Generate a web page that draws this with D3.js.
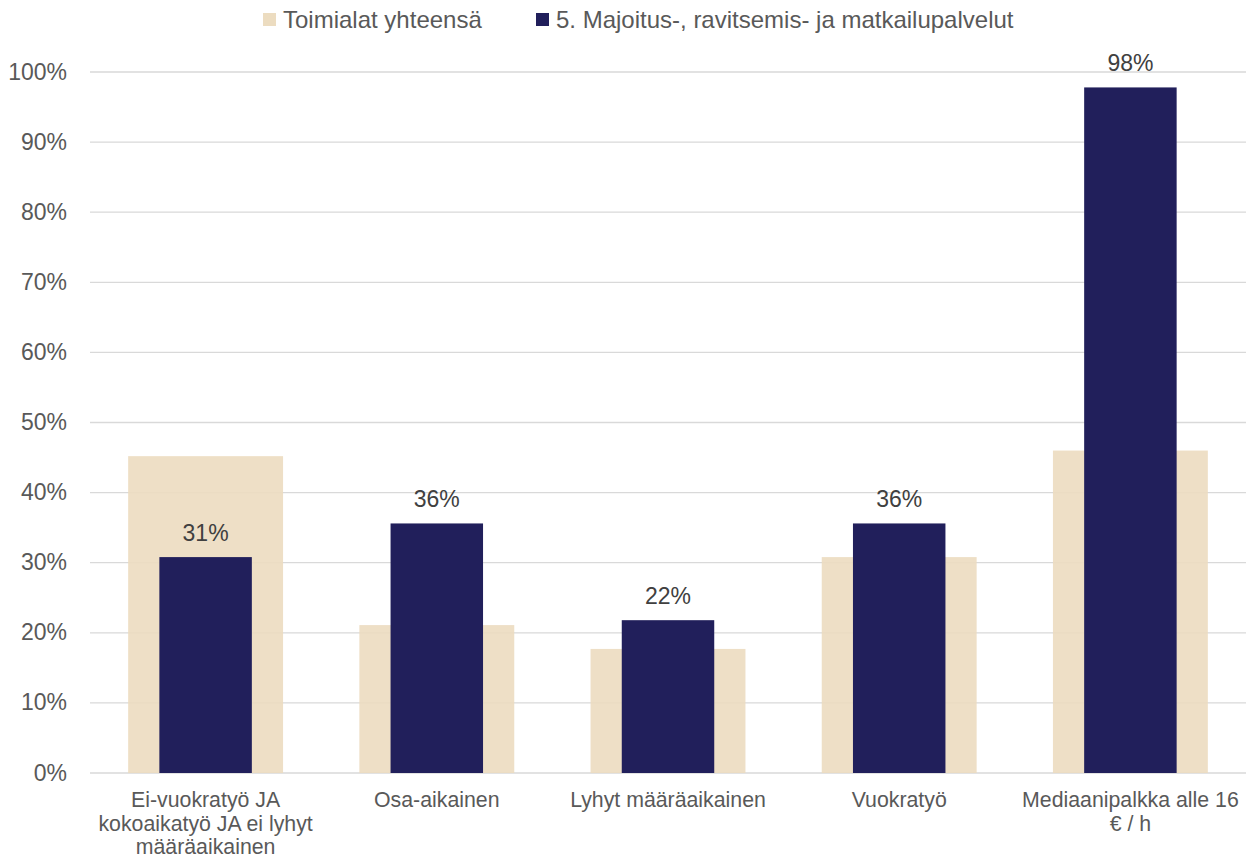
<!DOCTYPE html>
<html><head><meta charset="utf-8">
<script src="https://cdn.jsdelivr.net/npm/d3@7"></script>
<style>body{margin:0;background:#fff;font-family:"Liberation Sans",Arial,sans-serif}</style>
</head><body><svg id="c" width="1249" height="859"></svg>
<script>
const categories = [
  ["Ei-vuokratyö JA", "kokoaikatyö JA ei lyhyt", "määräaikainen"],
  ["Osa-aikainen"],
  ["Lyhyt määräaikainen"],
  ["Vuokratyö"],
  ["Mediaanipalkka alle 16", "€ / h"]
];
const totalValues = [45.2, 21.1, 17.7, 30.8, 46.0];
const sectorValues = [30.8, 35.6, 21.8, 35.6, 97.8];
const sectorLabels = ["31%", "36%", "22%", "36%", "98%"];
const yTicks = [0,10,20,30,40,50,60,70,80,90,100];
const seriesNames = ["Toimialat yhteensä", "5. Majoitus-, ravitsemis- ja matkailupalvelut"];
const colors = ["#ECDCC0", "#211F5B"];

const svg = d3.select("#c");
const pLeft = 90, pRight = 1246, pTop = 72, pBottom = 773;
const x = d3.scaleBand().domain(d3.range(categories.length)).range([pLeft, pRight]).paddingInner(0).paddingOuter(0);
const y = d3.scaleLinear().domain([0, 100]).range([pBottom, pTop]);
const bw = x.bandwidth();
const wideW = bw * 0.67, narrowW = bw * 0.40;

// gridlines
svg.append("g").selectAll("line").data(yTicks).join("line")
  .attr("x1", pLeft).attr("x2", pRight)
  .attr("y1", d => y(d)).attr("y2", d => y(d))
  .attr("stroke", "#D9D9D9").attr("stroke-width", 1.3);

// y tick labels
svg.append("g").selectAll("text").data(yTicks).join("text")
  .attr("x", 67).attr("y", d => y(d) + 7.5)
  .attr("text-anchor", "end").attr("fill", "#595959").attr("font-size", 23)
  .text(d => d + "%");

// background bars
svg.append("g").selectAll("rect").data(totalValues).join("rect")
  .attr("x", (d, i) => x(i) + bw / 2 - wideW / 2).attr("width", wideW)
  .attr("y", d => y(d)).attr("height", d => y(0) - y(d))
  .attr("fill", colors[0]).attr("fill-opacity", 0.9);

// foreground bars
svg.append("g").selectAll("rect").data(sectorValues).join("rect")
  .attr("x", (d, i) => x(i) + bw / 2 - narrowW / 2).attr("width", narrowW)
  .attr("y", d => y(d)).attr("height", d => y(0) - y(d))
  .attr("fill", colors[1]);

// data labels
svg.append("g").selectAll("text").data(sectorValues).join("text")
  .attr("x", (d, i) => x(i) + bw / 2).attr("y", d => y(d) - 16)
  .attr("text-anchor", "middle").attr("fill", "#404040").attr("font-size", 23)
  .text((d, i) => sectorLabels[i]);

// x labels
const xl = svg.append("g").selectAll("text").data(categories).join("text")
  .attr("x", (d, i) => x(i) + bw / 2).attr("y", 807)
  .attr("text-anchor", "middle").attr("fill", "#595959").attr("font-size", 21.3);
xl.each(function(d, i) {
  const t = d3.select(this);
  d.forEach((line, j) => t.append("tspan").attr("x", x(i) + bw / 2).attr("dy", j === 0 ? 0 : 23.5).text(line));
});

// legend
const leg = svg.append("g");
const legX = [263, 536];
seriesNames.forEach((n, i) => {
  leg.append("rect").attr("x", legX[i]).attr("y", 13).attr("width", 13).attr("height", 13).attr("fill", colors[i]);
  leg.append("text").attr("x", legX[i] + 20).attr("y", 28)
    .attr("fill", "#595959").attr("font-size", 24).text(n);
});
</script></body></html>
